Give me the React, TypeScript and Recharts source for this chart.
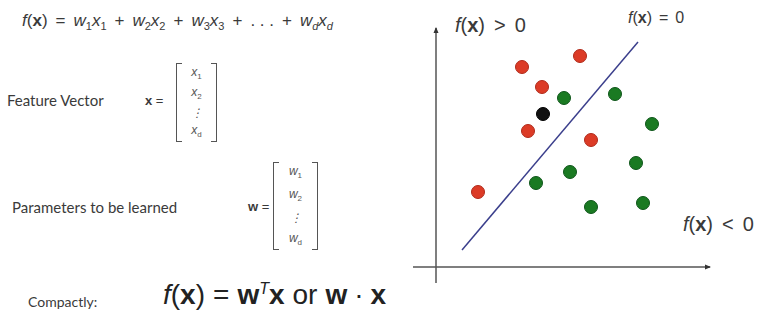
import { ScatterChart, Scatter, XAxis, YAxis, ReferenceLine } from "recharts";

const positives = [
  { x: 8.6, y: 20.0 },
  { x: 14.4, y: 21.1 },
  { x: 10.6, y: 18.0 },
  { x: 9.2, y: 13.6 },
  { x: 15.5, y: 12.7 },
  { x: 4.2, y: 7.5 },
];

const negatives = [
  { x: 12.8, y: 16.9 },
  { x: 17.9, y: 17.3 },
  { x: 21.6, y: 14.3 },
  { x: 10.0, y: 8.4 },
  { x: 13.4, y: 9.5 },
  { x: 20.0, y: 10.4 },
  { x: 15.5, y: 6.0 },
  { x: 20.7, y: 6.4 },
];

const query = [{ x: 10.7, y: 15.3 }];

// decision boundary f(x) = 0
const boundary = [
  { x: 2.6, y: 1.7 },
  { x: 20.2, y: 22.5 },
];

const xAxisSeg = [
  { x: -2.3, y: 0 },
  { x: 27.4, y: 0 },
];
const yAxisSeg = [
  { x: 0, y: -1.6 },
  { x: 0, y: 23.9 },
];
const arrowHeads = [
  { x: 27.4, y: 0, dir: "right" },
  { x: 0, y: 23.9, dir: "up" },
];

const X_DOMAIN = [-2.3, 27.7];
const Y_DOMAIN = [-2.3, 24.7];

const TEXT = "#3a3a3a";
const MATH = "'Liberation Sans', Arial, sans-serif";
const PROSE = "Lato, 'Open Sans', sans-serif";

const dot = (fill: string, stroke: string) => (p: any) => (
  <circle cx={p.cx} cy={p.cy} r={6.5} fill={fill} stroke={stroke} strokeWidth={1} />
);

const arrow = (p: any) => {
  const { cx, cy } = p;
  const pts =
    p.payload.dir === "up"
      ? `${cx - 2.5},${cy + 5} ${cx + 2.5},${cy + 5} ${cx},${cy - 1}`
      : `${cx - 5},${cy - 2.5} ${cx - 5},${cy + 2.5} ${cx + 1},${cy}`;
  return <polygon points={pts} fill="#333" />;
};

function Matrix({ items, left, top, width, height }: { items: string[]; left: number; top: number; width: number; height: number }) {
  const bracket = (side: "l" | "r") => ({
    position: "absolute" as const,
    top: 0,
    bottom: 0,
    width: 5,
    [side === "l" ? "left" : "right"]: 0,
    border: "1px solid #555",
    [side === "l" ? "borderRight" : "borderLeft"]: "none",
  });
  return (
    <div style={{ position: "absolute", left, top, width, height }}>
      <div style={bracket("l")} />
      <div style={bracket("r")} />
      <div
        style={{
          position: "absolute",
          inset: "3px 0",
          display: "flex",
          flexDirection: "column",
          justifyContent: "space-between",
          alignItems: "center",
          fontFamily: MATH,
          fontStyle: "italic",
          fontSize: 12,
          color: "#555",
          lineHeight: 1,
        }}
      >
        {items.map((s, i) => (
          <div key={i} dangerouslySetInnerHTML={{ __html: s }} />
        ))}
      </div>
    </div>
  );
}

const sub = (v: string, s: string) => `${v}<sub style="font-size:8px;font-style:normal">${s}</sub>`;

const Op = ({ children, gap = 6 }: { children: any; gap?: number }) => (
  <span style={{ display: "inline-block", margin: `0 ${gap}px` }}>{children}</span>
);

const S = ({ children, italic = false }: { children: any; italic?: boolean }) => (
  <sub style={{ fontSize: 11, fontStyle: italic ? "italic" : "normal" }}>{children}</sub>
);

export default function App() {
  const abs = (left: number, top: number, extra: any = {}) => ({
    position: "absolute" as const,
    left,
    top,
    whiteSpace: "nowrap" as const,
    color: TEXT,
    ...extra,
  });
  const fx = (
    <>
      <i>f</i>(<b>x</b>)
    </>
  );

  return (
    <div style={{ position: "relative", width: 776, height: 320, background: "#fff" }}>
      <style>{`body{margin:0}`}</style>

      <div style={abs(22, 11, { fontFamily: MATH, fontSize: 17 })}>
        {fx}
        <Op gap={8}>=</Op>
        <i>w</i><S>1</S><i>x</i><S>1</S>
        <Op gap={8}>+</Op>
        <i>w</i><S>2</S><i>x</i><S>2</S>
        <Op gap={8}>+</Op>
        <i>w</i><S>3</S><i>x</i><S>3</S>
        <Op gap={8}>+</Op>. . .<Op gap={8}>+</Op>
        <i>w</i><S italic>d</S><i>x</i><S italic>d</S>
      </div>

      <div style={abs(7, 91, { fontFamily: PROSE, fontSize: 15 })}>Feature Vector</div>
      <div style={abs(145, 93, { fontFamily: MATH, fontSize: 13 })}>
        <b>x</b> =
      </div>
      <Matrix items={[sub("x", "1"), sub("x", "2"), "⋮", sub("x", "d")]} left={176} top={63} width={41} height={79} />

      <div style={abs(12, 198, { fontFamily: PROSE, fontSize: 15 })}>Parameters to be learned</div>
      <div style={abs(248, 199, { fontFamily: MATH, fontSize: 13 })}>
        <b>w</b> =
      </div>
      <Matrix items={[sub("w", "1"), sub("w", "2"), "⋮", sub("w", "d")]} left={273} top={162} width={45} height={88} />

      <div style={abs(28, 293, { fontFamily: PROSE, fontSize: 14 })}>Compactly:</div>
      <div style={abs(163, 279, { fontFamily: MATH, fontSize: 28, color: "#222" })}>
        {fx}
        <Op gap={8}>=</Op>
        <b>w</b>
        <sup style={{ fontSize: 16, fontStyle: "italic" }}>T</sup>
        <b>x</b>
        <Op gap={8}>or</Op>
        <b>w</b>
        <Op gap={7}>·</Op>
        <b>x</b>
      </div>

      <div style={{ position: "absolute", left: 0, top: 0 }}>
        <ScatterChart width={776} height={320} margin={{ left: 413, right: 63, top: 20, bottom: 30 }}>
          <XAxis type="number" dataKey="x" domain={X_DOMAIN} hide allowDataOverflow />
          <YAxis type="number" dataKey="y" domain={Y_DOMAIN} hide allowDataOverflow />
          <ReferenceLine segment={xAxisSeg} stroke="#555" strokeWidth={1.5} ifOverflow="visible" />
          <ReferenceLine segment={yAxisSeg} stroke="#555" strokeWidth={1.5} ifOverflow="visible" />
          <ReferenceLine segment={boundary} stroke="#3b3f8c" strokeWidth={1.5} ifOverflow="visible" />
          <Scatter data={arrowHeads} shape={arrow} isAnimationActive={false} />
          <Scatter data={positives} shape={dot("#dc3b26", "#b02a1a")} isAnimationActive={false} />
          <Scatter data={negatives} shape={dot("#1a7a22", "#0f561a")} isAnimationActive={false} />
          <Scatter data={query} shape={dot("#111", "#000")} isAnimationActive={false} />
        </ScatterChart>
      </div>

      <div style={abs(455, 14, { fontFamily: MATH, fontSize: 20 })}>
        {fx}
        <Op gap={9}>&gt;</Op>0
      </div>
      <div style={abs(628, 9, { fontFamily: MATH, fontSize: 16 })}>
        {fx}
        <Op gap={7}>=</Op>0
      </div>
      <div style={abs(683, 213, { fontFamily: MATH, fontSize: 20 })}>
        {fx}
        <Op gap={9}>&lt;</Op>0
      </div>
    </div>
  );
}
